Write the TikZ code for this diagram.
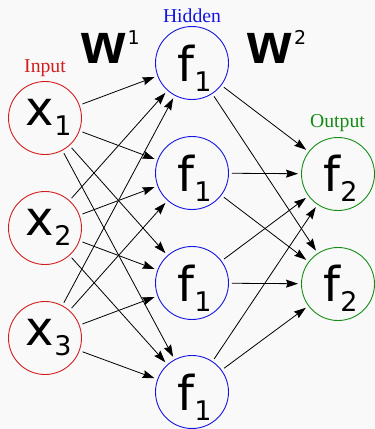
\documentclass[tikz,border=0pt]{standalone}
\usepackage{fontspec}
\setmainfont{Liberation Serif}
\newfontfamily\nodefont{DejaVu Sans}
\newfontfamily\wfont{Liberation Sans}
\usetikzlibrary{arrows.meta}
\definecolor{bg}{RGB}{249,249,249}
\definecolor{inred}{RGB}{210,30,30}
\definecolor{hidblue}{RGB}{20,20,225}
\definecolor{outgreen}{RGB}{20,140,20}
\newcommand\mysub[1]{\raisebox{-9.7pt}{\fontsize{27}{27}\selectfont #1}}
\newcommand\mysup[1]{\hspace{2pt}\raisebox{18.5pt}{\nodefont\mdseries\fontsize{19}{19}\selectfont #1}}
\begin{document}
\begin{tikzpicture}[x=1pt,y=-1pt,
  neuron/.style={circle, draw, line width=0.9pt, minimum size=73pt, inner sep=0pt,
    text depth=0pt, font=\nodefont\fontsize{48}{48}\selectfont},
  inneuron/.style={neuron, draw=inred, text height=15.4pt},
  hidneuron/.style={neuron, draw=hidblue, text height=37.4pt},
  outneuron/.style={neuron, draw=outgreen, text height=35pt},
  conn/.style={-{Stealth[length=12pt,width=8pt,inset=1.5pt]}, line width=0.8pt, shorten <=3pt, shorten >=3pt},
  layerlabel/.style={font=\fontsize{19.7}{19.7}\selectfont, anchor=base, inner sep=0pt},
  wlabel/.style={font=\wfont\bfseries\fontsize{57}{57}\selectfont, anchor=base west, inner sep=0pt}]
\fill[bg] (0,0) rectangle (375,429);
\useasboundingbox (0,0) rectangle (375,429);
\node[inneuron] (x1) at (45,118) {\hspace*{7.5pt}x\mysub{1}};
\node[inneuron] (x2) at (45,228) {\hspace*{7.5pt}x\mysub{2}};
\node[inneuron] (x3) at (45,338) {\hspace*{7.5pt}x\mysub{3}};
\node[hidneuron] (h1) at (192,63) {\hspace*{5pt}f\mysub{1}};
\node[hidneuron] (h2) at (192,173) {\hspace*{5pt}f\mysub{1}};
\node[hidneuron] (h3) at (192,283) {\hspace*{5pt}f\mysub{1}};
\node[hidneuron] (h4) at (192,392) {\hspace*{5pt}f\mysub{1}};
\node[outneuron] (o1) at (338,174) {\hspace*{5pt}f\mysub{2}};
\node[outneuron] (o2) at (338,284) {\hspace*{5pt}f\mysub{2}};
\node[layerlabel, text=inred] (lin) at (45,72.3) {Input};
\node[layerlabel, text=hidblue] (lhid) at (192,22) {Hidden};
\node[layerlabel, text=outgreen] (lout) at (337.5,127.3) {Output};
\node[wlabel] (w1) at (81,63.3) {w\mysup{1}};
\node[wlabel] (w2) at (247.5,63.3) {w\mysup{2}};
\foreach \i in {1,2,3}
  \foreach \j in {1,2,3,4}
    \draw[conn] (x\i) -- (h\j);
\foreach \j in {1,2,3,4}
  \foreach \k in {1,2}
    \draw[conn] (h\j) -- (o\k);
\end{tikzpicture}
\end{document}
